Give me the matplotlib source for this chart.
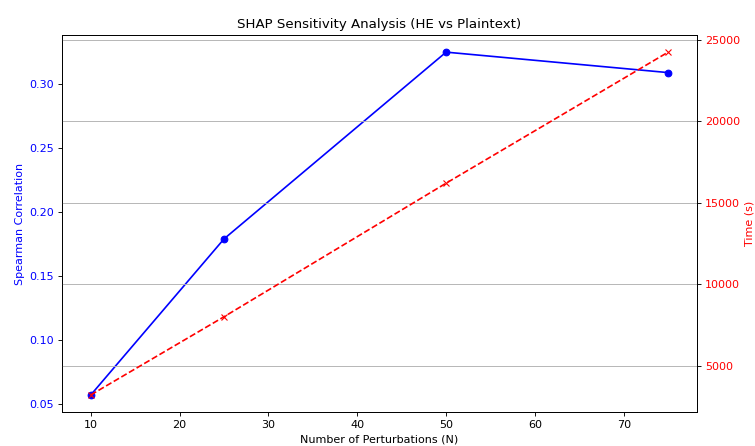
import matplotlib
matplotlib.use("Agg")

import matplotlib.pyplot as plt

# Data
n_perturbations = [10, 25, 50, 75]
spearman = [0.057, 0.179, 0.325, 0.309]
time_s = [3200, 8000, 16200, 24250]

DPI = 80
fig, ax1 = plt.subplots(figsize=(755 / DPI, 446 / DPI), dpi=DPI)

ax1.plot(n_perturbations, spearman, color="blue", marker="o", linestyle="-")
ax1.set_xlabel("Number of Perturbations (N)")
ax1.set_ylabel("Spearman Correlation", color="blue")
ax1.tick_params(axis="y", labelcolor="blue")

ax2 = ax1.twinx()
ax2.plot(n_perturbations, time_s, color="red", marker="x", linestyle="--")
ax2.set_ylabel("Time (s)", color="red")
ax2.tick_params(axis="y", labelcolor="red")
ax2.grid(True)

plt.title("SHAP Sensitivity Analysis (HE vs Plaintext)")
fig.subplots_adjust(left=62 / 755, right=697 / 755, top=1 - 35 / 446, bottom=1 - 412 / 446)
fig.savefig("out.png", dpi=DPI)
